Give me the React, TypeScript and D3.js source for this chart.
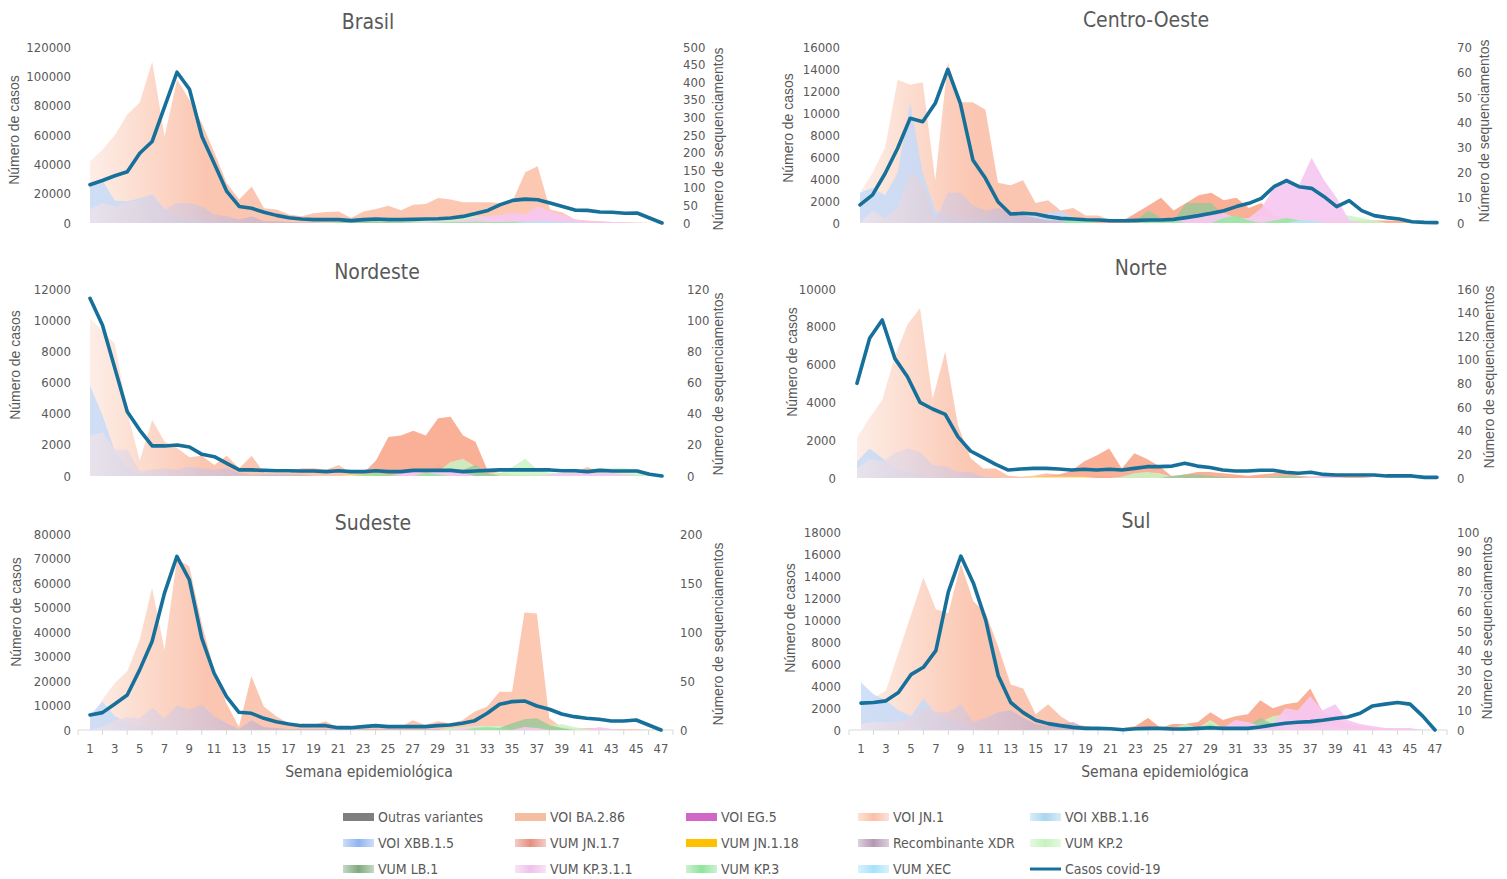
import React from 'react';
import * as d3 from 'd3';

const N = 47;
const weeks = d3.range(1, N + 1);
const weekTickLabels = weeks.filter((w) => w % 2 === 1);

function sparse(pairs: [number, number][]): number[] {
  const a = new Array(N).fill(0);
  pairs.forEach(([w, v]) => { a[w - 1] = v; });
  return a;
}

// ---------- Casos covid-19 (left axis) ----------
const casosBrasil = [26100, 29000, 32200, 34900, 47600, 55600, 79400, 102800, 91200, 59000, 40400, 21500, 11300, 10000, 7300, 5200, 3600, 2700, 2300, 2300, 2300, 1600, 2300, 2700, 2300, 2300, 2500, 2700, 2900, 3400, 4500, 6400, 8600, 12500, 15400, 16300, 15900, 13600, 11300, 8800, 8600, 7500, 7300, 6600, 6800, 3400, 0];
const casosCO = [1640, 2550, 4500, 6790, 9520, 9210, 10880, 13970, 10880, 5730, 4060, 1940, 820, 880, 820, 580, 420, 360, 300, 270, 210, 210, 240, 270, 270, 330, 490, 670, 880, 1120, 1490, 1790, 2240, 3300, 3850, 3300, 3150, 2390, 1490, 2030, 1120, 670, 490, 360, 120, 60, 30];
const casosNE = [11400, 9690, 6910, 4130, 2950, 1930, 1930, 1990, 1860, 1390, 1240, 810, 390, 390, 360, 340, 340, 320, 320, 280, 340, 280, 280, 340, 280, 280, 360, 360, 360, 360, 280, 320, 360, 390, 390, 390, 390, 390, 340, 340, 280, 360, 320, 320, 320, 110, 0];
const casosNorte = [5010, 7390, 8360, 6330, 5360, 4000, 3650, 3370, 2190, 1430, 1080, 720, 420, 480, 510, 510, 480, 420, 460, 420, 460, 420, 510, 600, 600, 630, 780, 630, 560, 420, 370, 370, 410, 410, 300, 250, 300, 190, 160, 160, 160, 160, 110, 110, 110, 35, 35];
const casosSE = [6130, 7090, 10630, 14310, 24530, 36120, 55880, 70870, 61330, 37480, 23170, 13630, 7220, 6810, 4770, 3410, 2450, 1770, 1770, 1770, 950, 950, 1360, 1770, 1360, 1360, 1360, 1360, 1770, 2040, 2730, 3820, 6810, 10490, 11580, 11860, 9810, 8450, 6540, 5450, 4770, 4360, 3680, 3680, 4090, 2040, 0];
const casosSul = [2440, 2500, 2650, 3410, 5030, 5700, 7220, 12550, 15810, 13370, 9960, 4930, 2500, 1580, 880, 580, 400, 240, 150, 150, 120, 30, 120, 150, 150, 90, 90, 150, 210, 150, 150, 150, 270, 460, 610, 700, 760, 880, 1040, 1190, 1520, 2190, 2350, 2500, 2350, 1280, 0];

// ---------- Sequenciamentos por variante (right axis) ----------
// Brasil
const jn1Brasil = [175, 208, 250, 308, 342, 458, 246, 408, 350, 283, 200, 113, 67, 104, 42, 38, 24, 19, 28, 31, 33, 14, 33, 40, 49, 36, 52, 54, 71, 67, 59, 59, 59, 57, 63, 144, 161, 38, 30, 10, 7, 5, 3, 2, 1, 1, 0];
const jn17Brasil = sparse([]);
const xbb15Brasil = sparse([[1, 113], [2, 121], [3, 63], [4, 62], [5, 70], [6, 82], [7, 40], [8, 20], [9, 15], [10, 10], [11, 5], [12, 2], [13, 1]]);
const xdrBrasil = sparse([[1, 38], [2, 57], [3, 47], [4, 59], [5, 66], [6, 78], [7, 38], [8, 57], [9, 57], [10, 47], [11, 24], [12, 19], [13, 10], [14, 19], [15, 5], [16, 5], [17, 3], [18, 2], [19, 2], [20, 1], [21, 1], [22, 1], [23, 1], [24, 1], [25, 1], [26, 1], [27, 1], [28, 1], [29, 1], [30, 1], [31, 1]]);
const kp311Brasil = sparse([[28, 2], [29, 4], [30, 5], [31, 8], [32, 14], [33, 19], [34, 22], [35, 30], [36, 24], [37, 47], [38, 33], [39, 24], [40, 10], [41, 6], [42, 5], [43, 3], [44, 2], [45, 1]]);
const kp2Brasil = sparse([[20, 1], [21, 2], [22, 3], [23, 4], [24, 5], [25, 6], [26, 7], [27, 9], [28, 10], [29, 12], [30, 12], [31, 16], [32, 20], [33, 18], [34, 12], [35, 8], [36, 6], [37, 4], [38, 3], [39, 2], [40, 1]]);
const lb1Brasil = sparse([[21, 2], [22, 5], [23, 6], [24, 5], [25, 3], [26, 2], [27, 1]]);
const kp3Brasil = sparse([[29, 2], [30, 3], [31, 3], [32, 4], [33, 3], [34, 3], [35, 4], [36, 3], [37, 2], [38, 1]]);
const xecBrasil = sparse([[36, 3], [37, 5], [38, 4], [39, 3], [40, 2], [41, 1]]);
const jn118Brasil = sparse([[34, 1], [35, 2], [36, 2], [37, 1]]);

// Centro-Oeste
const jn1CO = sparse([[1, 12], [2, 20], [3, 30], [4, 57], [5, 55], [6, 56], [7, 17], [8, 64], [9, 48], [10, 48], [11, 45], [12, 16], [13, 15], [14, 17], [15, 8], [16, 9], [17, 5], [18, 6], [19, 3], [20, 3], [21, 1], [22, 1], [23, 1], [24, 1]]);
const jn17CO = sparse([[20, 1], [21, 1], [22, 1], [23, 4], [24, 7], [25, 10], [26, 5], [27, 8], [28, 11], [29, 12], [30, 9], [31, 10], [32, 6], [33, 8], [34, 3], [35, 2], [36, 1], [37, 1], [38, 1], [39, 1], [40, 1], [41, 1], [42, 1], [43, 1], [44, 1]]);
const xbb15CO = sparse([[1, 12], [2, 14], [3, 11], [4, 20], [5, 48], [6, 20], [7, 5], [8, 3], [9, 2], [10, 2], [11, 2], [12, 2], [13, 2], [14, 3], [15, 4], [16, 4], [17, 5], [18, 2]]);
const xdrCO = sparse([[2, 5], [3, 2], [4, 6], [5, 20], [6, 16], [7, 1], [8, 12], [9, 12], [10, 7], [11, 5], [12, 6], [13, 4], [14, 3], [15, 2], [16, 1], [17, 1]]);
const kp311CO = sparse([[25, 1], [26, 2], [27, 2], [28, 3], [29, 3], [30, 4], [31, 2], [32, 2], [33, 6], [34, 14], [35, 18], [36, 15], [37, 26], [38, 17], [39, 10], [40, 1]]);
const kp2CO = sparse([[31, 1], [32, 2], [33, 3], [34, 2], [35, 2], [36, 2], [37, 2], [38, 2], [39, 3], [40, 3], [41, 2], [42, 1]]);
const lb1CO = sparse([[23, 1], [24, 5], [25, 2], [26, 1], [27, 8], [28, 8], [29, 8], [30, 3], [31, 2], [32, 1]]);
const kp3CO = sparse([[18, 2], [19, 1], [24, 1], [25, 2], [26, 1], [30, 2], [31, 3], [32, 1], [34, 1], [35, 2], [36, 1]]);
const xecCO = sparse([[36, 1], [37, 1]]);
const jn118CO = sparse([[36, 1], [37, 1]]);

// Nordeste
const jn1NE = [101, 93, 85, 41, 10, 36, 22, 18, 12, 13, 7, 13, 5, 13, 2, 2, 2, 5, 5, 4, 7, 2, 2, 1, 1, 1, 1, 1, 1, 1, 1, 1, 1, 1, 1, 1, 1, 1, 2, 2, 6, 2, 1, 1, 1, 0, 0];
const jn17NE = sparse([[22, 1], [23, 2], [24, 10], [25, 25], [26, 26], [27, 29], [28, 26], [29, 37], [30, 38], [31, 26], [32, 22], [33, 3], [34, 2], [35, 1]]);
const xbb15NE = sparse([[1, 58], [2, 39], [3, 16], [4, 5], [5, 1], [28, 2], [29, 8], [30, 2]]);
const xdrNE = sparse([[1, 26], [2, 28], [3, 17], [4, 17], [5, 3], [6, 4], [7, 5], [8, 4], [9, 6], [10, 5], [11, 4], [12, 5], [13, 2], [14, 1], [15, 1], [16, 1], [17, 1], [18, 1]]);
const kp311NE = sparse([[26, 2], [27, 3], [28, 2], [29, 3], [30, 3], [31, 2], [38, 1], [39, 2], [40, 2], [41, 2], [42, 2], [43, 2], [44, 1]]);
const kp2NE = sparse([[28, 1], [29, 3], [30, 9], [31, 11], [32, 6], [33, 2], [34, 2], [35, 6], [36, 11], [37, 4], [38, 2], [39, 2], [40, 3], [41, 4], [42, 5], [43, 5], [44, 5], [45, 4], [46, 1]]);
const lb1NE = sparse([[31, 4], [32, 7], [33, 2]]);
const kp3NE = sparse([[23, 1], [24, 2], [25, 1], [28, 2], [29, 1]]);
const xecNE = sparse([]);
const jn118NE = sparse([[13, 1], [14, 1], [22, 1], [23, 1]]);

// Norte
const jn1Norte = [34, 51, 66, 103, 130, 144, 67, 107, 45, 17, 8, 8, 2, 1, 2, 4, 3, 2, 2, 2, 2, 1, 1, 1, 1, 1, 1, 1, 1, 1, 1, 1, 1, 1, 1, 1, 1, 1, 1, 1, 0, 0, 0, 0, 0, 0, 0];
const jn17Norte = sparse([[15, 1], [16, 2], [17, 3], [18, 6], [19, 14], [20, 19], [21, 25], [22, 8], [23, 21], [24, 16], [25, 10], [26, 1], [27, 3], [28, 5], [29, 5], [30, 4], [31, 3], [32, 2], [33, 3], [34, 4], [35, 5], [36, 2], [37, 1], [38, 1], [39, 2], [40, 1], [41, 1]]);
const xbb15Norte = sparse([[1, 14], [2, 25], [3, 17], [4, 8], [5, 5], [6, 3]]);
const xdrNorte = sparse([[1, 8], [2, 16], [3, 14], [4, 21], [5, 25], [6, 22], [7, 11], [8, 10], [9, 5], [10, 5], [11, 1]]);
const kp311Norte = sparse([[37, 1], [38, 2], [39, 1]]);
const kp2Norte = sparse([[22, 1], [23, 4], [24, 5], [25, 4], [26, 1], [34, 1], [35, 2], [36, 1]]);
const lb1Norte = sparse([[26, 2], [27, 3], [28, 3], [29, 2], [30, 1], [34, 1], [35, 2], [36, 1]]);
const kp3Norte = sparse([]);
const xecNorte = sparse([]);
const jn118Norte = sparse([[15, 1], [16, 1], [17, 1], [18, 1], [19, 1]]);

// Sudeste
const jn1SE = [10, 31, 48, 60, 92, 145, 82, 174, 167, 109, 61, 27, 3, 55, 24, 14, 7, 5, 5, 9, 2, 2, 3, 3, 2, 3, 10, 5, 9, 7, 10, 19, 24, 39, 39, 120, 119, 12, 3, 2, 2, 2, 1, 1, 1, 0, 0];
const jn17SE = sparse([]);
const xbb15SE = sparse([[1, 15], [2, 29], [3, 14], [4, 8], [5, 4], [6, 2]]);
const xdrSE = sparse([[2, 3], [3, 10], [4, 13], [5, 12], [6, 23], [7, 12], [8, 25], [9, 21], [10, 26], [11, 14], [12, 7], [13, 1], [14, 10], [15, 3], [16, 2], [17, 1], [18, 1], [19, 1], [20, 1], [21, 1], [22, 1], [23, 1], [24, 1], [25, 1], [26, 1], [27, 1], [28, 1], [29, 1], [30, 1]]);
const kp311SE = sparse([[31, 2], [32, 3], [33, 2], [36, 3], [37, 2], [42, 3], [43, 1]]);
const kp2SE = sparse([[30, 2], [31, 3], [32, 4], [33, 4], [34, 4], [35, 3], [36, 3], [37, 4], [38, 5], [39, 6], [40, 3], [41, 1]]);
const lb1SE = sparse([[34, 2], [35, 7], [36, 11], [37, 12], [38, 5], [39, 2]]);
const kp3SE = sparse([[32, 2], [33, 3], [34, 2]]);
const xecSE = sparse([]);
const jn118SE = sparse([[35, 1], [36, 2], [37, 3], [38, 2]]);

// Sul
const jn1Sul = [13, 16, 20, 39, 58, 77, 61, 59, 84, 65, 59, 42, 23, 21, 8, 13, 7, 3, 2, 1, 1, 1, 1, 6, 1, 3, 2, 2, 2, 2, 1, 1, 1, 1, 1, 1, 1, 1, 1, 0, 0, 0, 0, 0, 0, 0, 0];
const jn17Sul = sparse([[18, 1], [19, 2], [20, 1], [21, 1], [22, 1], [23, 2], [24, 6], [25, 1], [26, 3], [27, 3], [28, 4], [29, 9], [30, 5], [31, 7], [32, 8], [33, 15], [34, 11], [35, 13], [36, 14], [37, 21], [38, 9], [39, 6], [40, 3], [41, 2], [42, 1], [43, 1]]);
const xbb15Sul = sparse([[1, 24], [2, 18], [3, 15], [4, 10], [5, 7], [6, 16], [7, 8], [8, 5], [9, 3], [10, 1]]);
const xdrSul = sparse([[1, 3], [2, 4], [3, 4], [4, 4], [5, 6], [6, 11], [7, 9], [8, 9], [9, 13], [10, 4], [11, 6], [12, 9], [13, 10], [14, 6], [15, 3], [16, 2], [17, 3], [18, 4], [19, 1]]);
const kp311Sul = sparse([[30, 1], [31, 5], [32, 4], [33, 2], [34, 3], [35, 11], [36, 10], [37, 17], [38, 10], [39, 13], [40, 5], [41, 3], [42, 2], [43, 1], [44, 1], [45, 1]]);
const kp2Sul = sparse([[26, 1], [27, 3], [28, 1], [29, 5], [30, 1], [31, 1], [32, 2], [33, 4], [34, 7], [35, 8], [36, 2], [37, 1], [38, 2], [39, 2], [40, 1]]);
const lb1Sul = sparse([[32, 2], [33, 6], [34, 3]]);
const kp3Sul = sparse([[27, 2], [28, 1], [29, 3]]);
const xecSul = sparse([]);
const jn118Sul = sparse([[37, 1], [38, 2], [39, 1]]);

// ---------- Axes ----------
const regionNames = ['Brasil', 'Centro-Oeste', 'Nordeste', 'Norte', 'Sudeste', 'Sul'];
const leftMax = [120000, 16000, 12000, 10000, 80000, 18000];
const leftStep = [20000, 2000, 2000, 2000, 10000, 2000];
const rightMax = [500, 70, 120, 160, 200, 100];
const rightStep = [50, 10, 20, 20, 50, 10];

const casosByRegion = [casosBrasil, casosCO, casosNE, casosNorte, casosSE, casosSul];
const seriesByRegion: Record<string, number[]>[] = [
  { jn1: jn1Brasil, xbb15: xbb15Brasil, jn17: jn17Brasil, jn118: jn118Brasil, xdr: xdrBrasil, kp2: kp2Brasil, lb1: lb1Brasil, kp311: kp311Brasil, kp3: kp3Brasil, xec: xecBrasil },
  { jn1: jn1CO, xbb15: xbb15CO, jn17: jn17CO, jn118: jn118CO, xdr: xdrCO, kp2: kp2CO, lb1: lb1CO, kp311: kp311CO, kp3: kp3CO, xec: xecCO },
  { jn1: jn1NE, xbb15: xbb15NE, jn17: jn17NE, jn118: jn118NE, xdr: xdrNE, kp2: kp2NE, lb1: lb1NE, kp311: kp311NE, kp3: kp3NE, xec: xecNE },
  { jn1: jn1Norte, xbb15: xbb15Norte, jn17: jn17Norte, jn118: jn118Norte, xdr: xdrNorte, kp2: kp2Norte, lb1: lb1Norte, kp311: kp311Norte, kp3: kp3Norte, xec: xecNorte },
  { jn1: jn1SE, xbb15: xbb15SE, jn17: jn17SE, jn118: jn118SE, xdr: xdrSE, kp2: kp2SE, lb1: lb1SE, kp311: kp311SE, kp3: kp3SE, xec: xecSE },
  { jn1: jn1Sul, xbb15: xbb15Sul, jn17: jn17Sul, jn118: jn118Sul, xdr: xdrSul, kp2: kp2Sul, lb1: lb1Sul, kp311: kp311Sul, kp3: kp3Sul, xec: xecSul },
];

// legend (row-major)
const legendKeys = ['outras', 'ba286', 'eg5', 'jn1', 'xbb116', 'xbb15', 'jn17', 'jn118', 'xdr', 'kp2', 'lb1', 'kp311', 'kp3', 'xec', 'casos'];
const legendLabels = ['Outras variantes', 'VOI BA.2.86', 'VOI EG.5', 'VOI JN.1', 'VOI XBB.1.16', 'VOI XBB.1.5', 'VUM JN.1.7', 'VUM JN.1.18', 'Recombinante XDR', 'VUM KP.2', 'VUM LB.1', 'VUM KP.3.1.1', 'VUM KP.3', 'VUM XEC', 'Casos covid-19'];

// ---------- Styles ----------
const drawOrder = ['jn1', 'xbb15', 'jn17', 'jn118', 'xdr', 'kp2', 'lb1', 'kp311', 'kp3', 'xec'];
const fills: Record<string, { fill: string; opacity: number; swatch: string }> = {
  outras: { fill: '#7f7f7f', opacity: 1, swatch: '#7f7f7f' },
  ba286: { fill: '#f5bda2', opacity: 1, swatch: '#f5bda2' },
  eg5: { fill: '#d166c8', opacity: 1, swatch: '#d166c8' },
  jn1: { fill: 'url(#g-jn1)', opacity: 1, swatch: 'url(#s-jn1)' },
  xbb116: { fill: '#bfe0f3', opacity: 1, swatch: 'url(#s-xbb116)' },
  xbb15: { fill: 'url(#g-xbb15)', opacity: 0.85, swatch: 'url(#s-xbb15)' },
  jn17: { fill: '#f8a98d', opacity: 0.92, swatch: 'url(#s-jn17)' },
  jn118: { fill: '#fff08a', opacity: 0.9, swatch: '#ffc000' },
  xdr: { fill: 'url(#g-xdr)', opacity: 0.82, swatch: 'url(#s-xdr)' },
  kp2: { fill: '#caf5c4', opacity: 0.85, swatch: 'url(#s-kp2)' },
  lb1: { fill: '#9fc79a', opacity: 0.85, swatch: 'url(#s-lb1)' },
  kp311: { fill: '#f6c8f1', opacity: 0.92, swatch: 'url(#s-kp311)' },
  kp3: { fill: '#94e89e', opacity: 0.85, swatch: 'url(#s-kp3)' },
  xec: { fill: '#b5e6fb', opacity: 0.9, swatch: 'url(#s-xec)' },
};
const LINE_COLOR = '#16709a';
const TEXT = '#595959';
const NARROW = "'Liberation Sans Narrow','Arial Narrow','DejaVu Sans Condensed',sans-serif";
const SANS = "'Liberation Sans',Arial,sans-serif";

// panel layout in page pixels
const layout = [
  { xL: 90, xR: 662, yTop: 47, yBot: 223, titleX: 368, titleY: 29, lLab: 71, rLab: 683, lTitleX: 19, lTitleY: 130, rTitleX: 723, rTitleY: 139, xAxis: false },
  { xL: 860, xR: 1437, yTop: 47, yBot: 223, titleX: 1146, titleY: 27, lLab: 840, rLab: 1457, lTitleX: 793, lTitleY: 128, rTitleX: 1489, rTitleY: 131, xAxis: false },
  { xL: 90, xR: 662, yTop: 289, yBot: 476, titleX: 377, titleY: 279, lLab: 71, rLab: 687, lTitleX: 20, lTitleY: 365, rTitleX: 723, rTitleY: 384, xAxis: false },
  { xL: 857, xR: 1437, yTop: 289, yBot: 478, titleX: 1141, titleY: 275, lLab: 836, rLab: 1457, lTitleX: 797, lTitleY: 362, rTitleX: 1494, rTitleY: 377, xAxis: false },
  { xL: 90, xR: 661, yTop: 534, yBot: 730, titleX: 373, titleY: 530, lLab: 71, rLab: 680, lTitleX: 21, lTitleY: 612, rTitleX: 723, rTitleY: 634, xAxis: true },
  { xL: 861, xR: 1435, yTop: 532, yBot: 730, titleX: 1136, titleY: 528, lLab: 841, rLab: 1457, lTitleX: 795, lTitleY: 618, rTitleX: 1492, rTitleY: 628, xAxis: true },
];
const xTitleX = [369, 1165];

function Panel({ idx }: { idx: number }) {
  const L = layout[idx];
  const x = d3.scaleLinear().domain([1, N]).range([L.xL, L.xR]);
  const yL = d3.scaleLinear().domain([0, leftMax[idx]]).range([L.yBot, L.yTop]);
  const yR = d3.scaleLinear().domain([0, rightMax[idx]]).range([L.yBot, L.yTop]);
  const area = d3.area<number>().x((_, i) => x(weeks[i])).y0(L.yBot).y1((d) => yR(d));
  const line = d3.line<number>().x((_, i) => x(weeks[i])).y((d) => yL(d));
  const lt = d3.range(0, leftMax[idx] + 1, leftStep[idx]);
  const rt = d3.range(0, rightMax[idx] + 1, rightStep[idx]);
  const s = seriesByRegion[idx];
  return (
    <g>
      <text x={L.titleX} y={L.titleY} textAnchor="middle" fontFamily={NARROW} fontSize={21} fill={TEXT}>{regionNames[idx]}</text>
      {lt.map((t) => (
        <text key={'l' + t} x={L.lLab} y={yL(t)} dy="0.35em" textAnchor="end" fontFamily={NARROW} fontSize={13} fill={TEXT}>{t}</text>
      ))}
      {rt.map((t) => (
        <text key={'r' + t} x={L.rLab} y={yR(t)} dy="0.35em" textAnchor="start" fontFamily={NARROW} fontSize={13} fill={TEXT}>{t}</text>
      ))}
      <text transform={`translate(${L.lTitleX},${L.lTitleY}) rotate(-90)`} textAnchor="middle" fontFamily={SANS} fontSize={14} fill={TEXT}>Número de casos</text>
      <text transform={`translate(${L.rTitleX},${L.rTitleY}) rotate(-90)`} textAnchor="middle" fontFamily={SANS} fontSize={14} fill={TEXT}>Número de sequenciamentos</text>
      {L.xAxis && (
        <g>
          <line x1={L.xL - 12} x2={L.xR + 12} y1={L.yBot} y2={L.yBot} stroke="#d9d9d9" strokeWidth={1} />
          {weeks.filter((w) => w % 2 === 0).map((w) => (
            <line key={'t' + w} x1={x(w)} x2={x(w)} y1={L.yBot} y2={L.yBot + 5} stroke="#d9d9d9" />
          ))}
          <line x1={L.xL - 12} x2={L.xL - 12} y1={L.yBot} y2={L.yBot + 5} stroke="#d9d9d9" />
          <line x1={L.xR + 12} x2={L.xR + 12} y1={L.yBot} y2={L.yBot + 5} stroke="#d9d9d9" />
          {weekTickLabels.map((w) => (
            <text key={'x' + w} x={x(w)} y={L.yBot + 23} textAnchor="middle" fontFamily={NARROW} fontSize={13} fill={TEXT}>{w}</text>
          ))}
          <text x={xTitleX[idx === 4 ? 0 : 1]} y={L.yBot + 47} textAnchor="middle" fontFamily={NARROW} fontSize={15.5} fill={TEXT}>Semana epidemiológica</text>
        </g>
      )}
      {drawOrder.map((k) => (
        <path key={k} d={area(s[k]) || ''} fill={fills[k].fill} fillOpacity={fills[k].opacity} stroke="none" />
      ))}
      <path d={line(casosByRegion[idx]) || ''} fill="none" stroke={LINE_COLOR} strokeWidth={3.6} strokeLinejoin="round" strokeLinecap="round" />
    </g>
  );
}

function softSwatch(id: string, color: string) {
  return (
    <linearGradient id={id} x1="0" x2="1" y1="0" y2="0">
      <stop offset="0" stopColor={color} stopOpacity={0.45} />
      <stop offset="0.5" stopColor={color} stopOpacity={1} />
      <stop offset="1" stopColor={color} stopOpacity={0.45} />
    </linearGradient>
  );
}

export default function App() {
  const legendColX = [343, 515, 686, 858, 1030];
  const legendRowY = [817, 843, 869];
  return (
    <svg width={1507} height={879} style={{ position: 'absolute', left: 0, top: 0, background: '#fff' }}>
      <defs>
        <linearGradient id="g-jn1" x1="0" x2="1" y1="0" y2="0">
          <stop offset="0" stopColor="#fdeee7" />
          <stop offset="0.2" stopColor="#fbc6b1" />
          <stop offset="1" stopColor="#fcc9b3" />
        </linearGradient>
        <linearGradient id="g-xbb15" x1="0" x2="1" y1="0" y2="0">
          <stop offset="0" stopColor="#c7dbf8" />
          <stop offset="1" stopColor="#c2d6f5" />
        </linearGradient>
        <linearGradient id="g-xdr" x1="0" x2="1" y1="0" y2="0">
          <stop offset="0" stopColor="#ece3ea" />
          <stop offset="0.3" stopColor="#cbb5cb" />
          <stop offset="1" stopColor="#c9b3c9" />
        </linearGradient>
        {softSwatch('s-jn1', '#fbbfa8')}
        {softSwatch('s-xbb116', '#a9d6f0')}
        {softSwatch('s-xbb15', '#8fb4f2')}
        {softSwatch('s-jn17', '#e58f7f')}
        {softSwatch('s-xdr', '#b497b2')}
        {softSwatch('s-kp2', '#c6f3bd')}
        {softSwatch('s-lb1', '#7faa7c')}
        {softSwatch('s-kp311', '#eec2ea')}
        {softSwatch('s-kp3', '#8fe39a')}
        {softSwatch('s-xec', '#a6e2fb')}
      </defs>
      <rect x={0} y={0} width={1507} height={879} fill="#fff" />
      {regionNames.map((_, i) => <Panel key={i} idx={i} />)}
      {legendKeys.map((k, i) => {
        const cx = legendColX[i % 5];
        const cy = legendRowY[Math.floor(i / 5)];
        return (
          <g key={k}>
            {k === 'casos' ? (
              <line x1={cx} x2={cx + 31} y1={cy} y2={cy} stroke={LINE_COLOR} strokeWidth={3} />
            ) : (
              <rect x={cx} y={cy - 4} width={31} height={8} fill={fills[k].swatch} />
            )}
            <text x={cx + 35} y={cy} dy="0.35em" fontFamily={NARROW} fontSize={14} fill={TEXT}>{legendLabels[i]}</text>
          </g>
        );
      })}
    </svg>
  );
}
